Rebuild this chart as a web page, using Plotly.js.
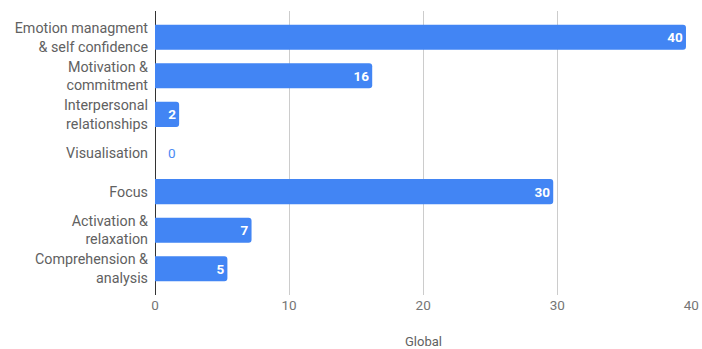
<!DOCTYPE html>
<html>
<head>
<meta charset="utf-8">
<script src="https://cdn.plot.ly/plotly-3.0.1.min.js"></script>
<style>html,body{margin:0;padding:0;background:#fff;}#chart{width:702px;height:349px;}</style>
</head>
<body>
<div id="chart"></div>
<script>
const categories = [
  "Emotion managment<br>& self confidence",
  "Motivation &<br>commitment",
  "Interpersonal<br>relationships",
  "Visualisation",
  "Focus",
  "Activation &<br>relaxation",
  "Comprehension &<br>analysis"
];
const globalValues = [39.6, 16.2, 1.8, 0, 29.7, 7.2, 5.4];
const xTicks = [0, 10, 20, 30, 40];
const xAxisTitle = "Global";

const trace = {
  type: "bar",
  orientation: "h",
  y: categories,
  x: globalValues,
  marker: {color: "#4285F4", cornerradius: 3},
  texttemplate: globalValues.map(v => v > 0 ? "%{x:.0f}" : "\u00a0\u00a0\u00a0%{x:.0f}"),
  textposition: globalValues.map(v => v > 0 ? "inside" : "outside"),
  insidetextanchor: "end",
  constraintext: "none",
  cliponaxis: false,
  insidetextfont: {family: "Roboto", size: 13.5, color: "#ffffff", weight: "bold"},
  outsidetextfont: {family: "Roboto", size: 13.5, color: "#4a8af4"},
  hoverinfo: "none"
};

const layout = {
  width: 702, height: 349,
  margin: {l: 155, r: 10, t: 11, b: 54},
  paper_bgcolor: "#ffffff", plot_bgcolor: "#ffffff",
  showlegend: false,
  bargap: 0.35,
  font: {family: "Roboto", size: 13, color: "#616161"},
  xaxis: {
    range: [0, 40.05],
    tickvals: xTicks,
    ticktext: xTicks.map(String),
    showgrid: true, gridcolor: "#cccccc", gridwidth: 1,
    zeroline: true, zerolinecolor: "#333333", zerolinewidth: 1,
    showline: false, ticks: "",
    tickfont: {family: "Roboto", size: 13.5, color: "#757575"},
    automargin: false
  },
  yaxis: {
    type: "category",
    categoryorder: "array",
    categoryarray: categories,
    range: [6.68, -0.68],
    showgrid: false, zeroline: false, showline: false, ticks: "",
    ticklabelstandoff: 6,
    automargin: false,
    tickfont: {family: "Roboto", size: 14.3, color: "#616161"}
  },
  annotations: [{
    text: xAxisTitle, xref: "paper", yref: "paper", x: 0.5, y: 0,
    yshift: -46, xanchor: "center", yanchor: "middle", showarrow: false,
    font: {family: "Roboto", size: 13, color: "#616161"}
  }]
};

Plotly.newPlot("chart", [trace], layout, {displayModeBar: false, staticPlot: true});
</script>
</body>
</html>
